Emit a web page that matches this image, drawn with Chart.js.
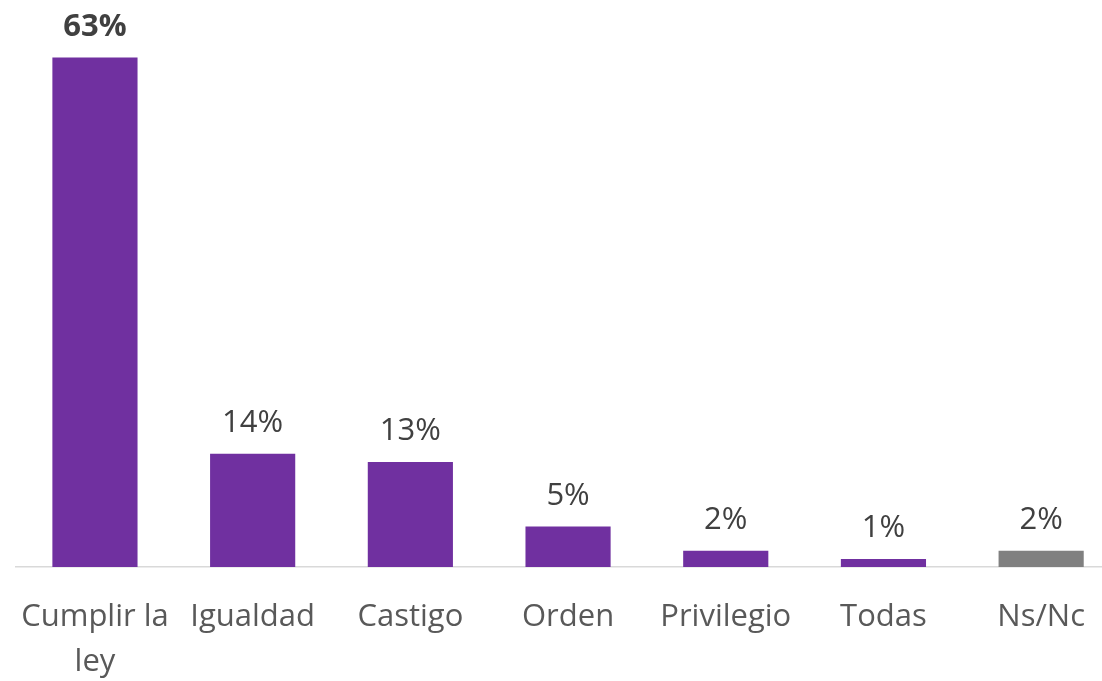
<!DOCTYPE html>
<html>
<head>
<meta charset="utf-8">
<script src="https://cdn.jsdelivr.net/npm/chart.js@4.4.1/dist/chart.umd.min.js"></script>
<style>
html,body{margin:0;padding:0;background:#fff;overflow:hidden;width:1102px;height:681px;}
#wrap{width:1120px;height:681px;}
</style>
</head>
<body>
<div id="wrap"><canvas id="c" width="1120" height="681"></canvas></div>
<script>
const categories = [["Cumplir la","ley"],"Igualdad","Castigo","Orden","Privilegio","Todas","Ns/Nc"];
const values = [63,14,13,5,2,1,2];
const barColors = ["#7030A0","#7030A0","#7030A0","#7030A0","#7030A0","#7030A0","#808080"];
const valueLabels = ["63%","14%","13%","5%","2%","1%","2%"];
const boldLabel = [true,false,false,false,false,false,false];

const FONT = "'Open Sans', 'DejaVu Sans', sans-serif";

const valuePlugin = {
  id:'valuePlugin',
  afterDatasetsDraw(chart){
    const ctx = chart.ctx;
    const meta = chart.getDatasetMeta(0);
    ctx.save();
    ctx.textAlign='center';
    ctx.textBaseline='alphabetic';
    ctx.fillStyle='#404040';
    meta.data.forEach((bar,i)=>{
      ctx.font = (boldLabel[i]?'bold ':'') + '31px ' + FONT;
      ctx.fillText(valueLabels[i], bar.x, bar.y - 22);
    });
    ctx.restore();
  }
};

new Chart(document.getElementById('c'),{
  type:'bar',
  data:{
    labels:categories,
    datasets:[{
      data:values,
      backgroundColor:barColors,
      borderWidth:0,
      barPercentage:0.54,
      categoryPercentage:1.0
    }]
  },
  options:{
    responsive:false,
    animation:false,
    devicePixelRatio:1,
    layout:{padding:{left:16,right:0,top:1,bottom:0}},
    plugins:{legend:{display:false},tooltip:{enabled:false}},
    scales:{
      x:{
        grid:{display:false},
        border:{display:true,color:'#d9d9d9',width:1.5},
        ticks:{
          color:'#595959',
          font:{family:FONT,size:31,lineHeight:1.45},
          padding:20,
          maxRotation:0,
          autoSkip:false
        },
        afterFit(scale){ scale.height = 114; }
      },
      y:{
        display:false,
        min:0,max:70
      }
    }
  },
  plugins:[valuePlugin]
});
</script>
</body>
</html>
